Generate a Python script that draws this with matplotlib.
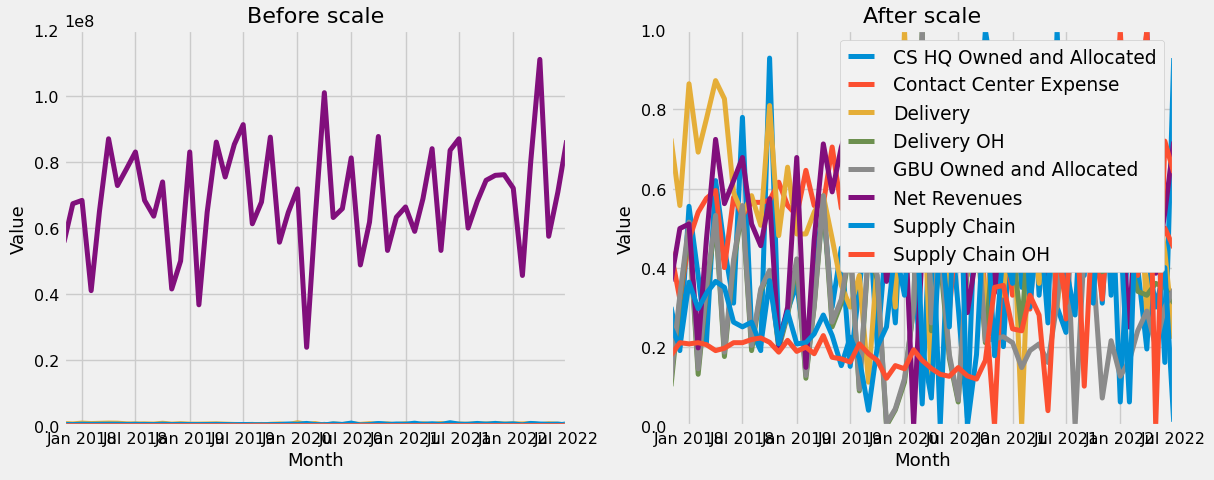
import numpy as np
import pandas as pd
import matplotlib
matplotlib.use("Agg")
import matplotlib.pyplot as plt
import matplotlib.dates as mdates

plt.style.use("fivethirtyeight")

# monthly data, Nov 2017 .. Jul 2022
months = pd.date_range("2017-11-01", "2022-07-01", freq="MS")

# Net Revenues in units of 1e8
net_revenues = [0.557, 0.674, 0.684, 0.41, 0.65, 0.871, 0.729, 0.78, 0.831, 0.684,
                0.636, 0.74, 0.415, 0.50, 0.831, 0.367, 0.648, 0.861, 0.755, 0.854,
                0.914, 0.613, 0.679, 0.876, 0.557, 0.648, 0.719, 0.238, 0.63, 1.011,
                0.632, 0.659, 0.813, 0.488, 0.618, 0.878, 0.532, 0.633, 0.664, 0.59,
                0.689, 0.841, 0.532, 0.836, 0.871, 0.60, 0.681, 0.745, 0.76, 0.762,
                0.721, 0.456, 0.80, 1.112, 0.575, 0.709, 0.866]

# cost lines, position of each month inside the series' own min..max range
cs_hq = [0.30, 0.19, 0.555, 0.38, 0.21, 0.62, 0.45, 0.31, 0.78, 0.24,
         0.19, 0.93, 0.22, 0.29, 0.36, 0.18, 0.40, 0.55, 0.30, 0.45,
         0.15, 0.35, 0.55, 0.20, 0.48, 0.26, 0.70, 0.45, 0.055, 0.60,
         0.0, 0.55, 0.30, 0.02, 0.65, 1.0, 0.85, 0.20, 0.60, 0.35,
         0.75, 0.33, 0.60, 0.30, 0.236, 0.70, 0.38, 0.80, 0.31, 0.65,
         0.06, 0.55, 0.40, 0.194, 0.60, 0.16, 0.93]
contact_center = [0.44, 0.32, 0.47, 0.54, 0.575, 0.595, 0.40, 0.578, 0.532, 0.565,
                  0.565, 0.57, 0.616, 0.557, 0.532, 0.646, 0.557, 0.56, 0.705, 0.55,
                  0.62, 0.50, 0.68, 0.45, 0.60, 0.55, 0.48, 0.70, 0.50, 0.42,
                  0.65, 0.29, 0.55, 0.40, 0.75, 0.30, 0.0, 0.50, 0.33, 0.55,
                  0.295, 0.60, 0.35, 0.70, 0.27, 0.65, 0.40, 0.50, 0.32, 0.60,
                  1.0, 0.55, 0.38, 0.60, 0.40, 0.50, 0.45]
delivery = [0.726, 0.557, 0.865, 0.692, 0.776, 0.873, 0.827, 0.59, 0.536, 0.582,
            0.507, 0.81, 0.481, 0.654, 0.485, 0.485, 0.54, 0.582, 0.473, 0.355,
            0.30, 0.38, 0.11, 0.42, 0.55, 0.30, 1.0, 0.45, 0.70, 0.09,
            0.55, 0.33, 0.60, 0.38, 0.65, 0.28, 0.50, 0.33, 0.60, 0.0,
            0.55, 0.36, 0.70, 0.30, 0.52, 0.40, 0.66, 0.45, 0.75, 0.50,
            0.60, 0.55, 0.70, 0.28, 0.60, 0.44, 0.22]
delivery_oh = [0.10, 0.32, 0.50, 0.13, 0.34, 0.52, 0.175, 0.41, 0.55, 0.19,
               0.34, 0.39, 0.195, 0.28, 0.41, 0.12, 0.30, 0.57, 0.25, 0.31,
               0.45, 0.088, 0.44, 0.37, 0.0, 0.04, 0.11, 0.30, 1.0, 0.24,
               0.42, 0.17, 0.06, 0.40, 0.50, 0.21, 0.50, 0.60, 0.45, 0.245,
               0.55, 0.48, 0.70, 0.45, 0.60, 0.50, 0.45, 0.42, 0.39, 0.40,
               0.45, 0.42, 0.34, 0.33, 0.36, 0.35, 0.31]
gbu = [0.12, 0.33, 0.515, 0.144, 0.35, 0.532, 0.186, 0.42, 0.557, 0.203,
       0.346, 0.393, 0.203, 0.288, 0.422, 0.127, 0.304, 0.582, 0.262, 0.32,
       0.46, 0.093, 0.45, 0.38, 0.005, 0.043, 0.119, 0.30, 1.0, 0.26,
       0.45, 0.18, 0.065, 0.42, 0.55, 0.215, 0.22, 0.225, 0.21, 0.147,
       0.19, 0.207, 0.16, 0.31, 0.55, 0.0, 0.45, 0.40, 0.07, 0.215,
       0.125, 0.165, 0.24, 0.29, 0.20, 0.30, 0.345]
supply_chain = [0.25, 0.20, 0.363, 0.296, 0.335, 0.365, 0.35, 0.262, 0.25, 0.262,
                0.203, 0.367, 0.207, 0.288, 0.207, 0.21, 0.232, 0.28, 0.228, 0.152,
                0.224, 0.17, 0.039, 0.20, 0.25, 0.45, 0.33, 0.70, 0.20, 0.07,
                0.50, 0.25, 0.85, 0.0, 0.18, 0.60, 0.177, 0.45, 0.36, 0.80,
                0.30, 0.55, 0.26, 1.0, 0.40, 0.28, 0.70, 0.31, 0.70, 0.33,
                0.50, 0.06, 0.70, 0.45, 0.30, 0.40, 0.01]
supply_chain_oh = [0.178, 0.21, 0.207, 0.21, 0.205, 0.19, 0.196, 0.21, 0.21, 0.218,
                   0.222, 0.211, 0.186, 0.216, 0.188, 0.199, 0.182, 0.228, 0.173, 0.169,
                   0.161, 0.207, 0.182, 0.165, 0.12, 0.152, 0.144, 0.192, 0.165, 0.145,
                   0.13, 0.125, 0.147, 0.126, 0.118, 0.165, 0.35, 0.355, 0.245, 0.24,
                   0.33, 0.28, 0.038, 0.45, 0.31, 0.62, 0.10, 0.55, 0.75, 0.50,
                   0.60, 0.40, 0.80, 1.0, 0.0, 0.72, 0.64]

# dollar range (low, high) of each cost line
cost_ranges = {
    "CS HQ Owned and Allocated": (1.0e5, 6.0e5),
    "Contact Center Expense": (2.0e4, 1.2e5),
    "Delivery": (1.0e5, 9.0e5),
    "Delivery OH": (5.0e4, 3.0e5),
    "GBU Owned and Allocated": (5.0e4, 4.0e5),
    "Supply Chain": (2.0e5, 9.0e5),
    "Supply Chain OH": (1.0e3, 2.0e4),
}
cost_shares = {
    "CS HQ Owned and Allocated": cs_hq,
    "Contact Center Expense": contact_center,
    "Delivery": delivery,
    "Delivery OH": delivery_oh,
    "GBU Owned and Allocated": gbu,
    "Supply Chain": supply_chain,
    "Supply Chain OH": supply_chain_oh,
}

df = pd.DataFrame(index=months)
for name, share in cost_shares.items():
    lo, hi = cost_ranges[name]
    df[name] = lo + np.array(share) * (hi - lo)
df["Net Revenues"] = np.array(net_revenues) * 1e8

order = ["CS HQ Owned and Allocated", "Contact Center Expense", "Delivery",
         "Delivery OH", "GBU Owned and Allocated", "Net Revenues",
         "Supply Chain", "Supply Chain OH"]
df = df[order]
scaled = (df - df.min()) / (df.max() - df.min())

fig = plt.figure(figsize=(12.14, 4.81), dpi=100)
ax1 = fig.add_axes([64 / 1214, 54.3 / 481, 502.7 / 1214, 395.3 / 481])
ax2 = fig.add_axes([671 / 1214, 54.3 / 481, 502.7 / 1214, 395.3 / 481])

for name in order:
    ax1.plot(df.index, df[name], label=name, linewidth=3.6)
    ax2.plot(scaled.index, scaled[name], label=name, linewidth=3.6)

for ax, title in [(ax1, "Before scale"), (ax2, "After scale")]:
    ax.set_title(title, fontsize=16)
    ax.set_xlabel("Month", fontsize=13.1)
    ax.set_ylabel("Value", fontsize=13.1)
    ax.set_xlim(months[0], months[-1])
    ax.xaxis.set_major_locator(mdates.MonthLocator(bymonth=[1, 7]))
    ax.xaxis.set_major_formatter(mdates.DateFormatter("%b %Y"))
    ax.tick_params(labelsize=11.5)
    ax.yaxis.get_offset_text().set_fontsize(11.5)

ax1.set_ylim(0, 1.2e8)
ax2.set_ylim(0, 1.0)

leg = ax2.legend(loc="upper right", fontsize=13.4, handlelength=1.4,
                 handletextpad=1.05, labelspacing=0.5, framealpha=1.0)
leg.get_frame().set_facecolor("#f2f2f2")

fig.savefig("out.png", dpi=100, facecolor=fig.get_facecolor())
